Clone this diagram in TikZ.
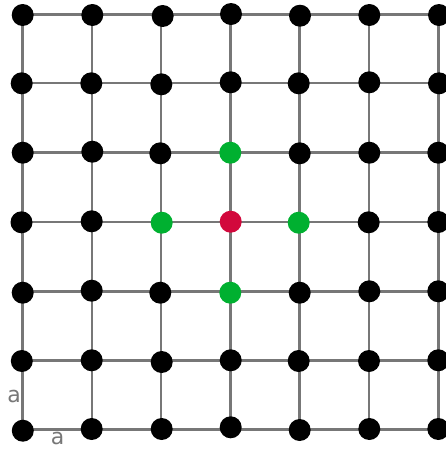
\documentclass[tikz,border=0pt]{standalone}
\usepackage{fontspec}
\setmainfont{DejaVu Sans}
\definecolor{gridgray}{RGB}{119,119,119}
\definecolor{nbgreen}{RGB}{0,176,48}
\definecolor{ctred}{RGB}{210,8,60}
\begin{document}
\begin{tikzpicture}[x=1pt,y=-1pt,
  gridline/.style={draw=gridgray,line width=2.6pt},
  dot/.style={circle,fill=black,minimum size=22pt,inner sep=0pt},
  nbdot/.style={dot,fill=nbgreen},
  ctdot/.style={dot,fill=ctred},
  lbl/.style={text=gridgray,inner sep=0pt,font=\fontsize{22}{26}\selectfont}]
\useasboundingbox (0,0) rectangle (446,451);
% grid coordinates
\foreach \i/\x in {0/22.5,1/91.8,2/161.1,3/230.4,4/299.7,5/369,6/438.3}{
  \coordinate (t\i) at (\x,14.5);
  \coordinate (b\i) at (\x,429.5);
}
\foreach \j/\y in {0/14.5,1/83,2/152.5,3/222,4/291.3,5/360.3,6/429.5}{
  \coordinate (l\j) at (22.5,\y);
  \coordinate (r\j) at (446,\y);
}
\foreach \k in {0,...,6}{
  \draw[gridline] (t\k) -- (b\k);
  \draw[gridline] (l\k) -- (r\k);
}
% dots
\foreach \n/\x/\y in {
 00/22.7/15,01/92.3/15,02/162.7/16,03/231/14,04/300/15.7,05/369.3/15,06/439/15,
 10/21.7/83.3,11/91.3/83.3,12/161.3/84.3,13/230.7/82.3,14/298.7/83.3,15/369.3/82.3,16/439/83.3,
 20/22.7/152.7,21/92.3/151.7,22/160.3/153.3,24/299.7/153.3,25/369.3/152.7,26/438.3/152.7,
 30/21.5/222.3,31/91.7/221.3,35/368.7/222.3,36/438.3/222,
 40/22.7/292.7,41/91.7/290.7,42/160.3/292.7,44/299.7/292.7,45/369.3/291.3,46/438.3/291.3,
 50/21.8/361,51/91.7/360.3,52/161.7/362,53/230.7/360.3,54/298.7/361,55/369/361,56/438.3/360.3,
 60/22.8/430.7,61/91.7/429,62/161.7/429,63/230.7/427.3,64/299.7/430,65/369.3/429,66/438.3/429}{
  \node[dot] (d\n) at (\x,\y) {};
}
\node[nbdot] (d23) at (230.3,152.7) {};
\node[nbdot] (d32) at (161.7,222.7) {};
\node[ctdot] (d33) at (230.7,221.7) {};
\node[nbdot] (d34) at (298.7,222.7) {};
\node[nbdot] (d43) at (230.3,292.7) {};
% labels
\node[lbl] (av) at (14,396.5) {a};
\node[lbl] (ah) at (57.5,438.5) {a};
\end{tikzpicture}
\end{document}
